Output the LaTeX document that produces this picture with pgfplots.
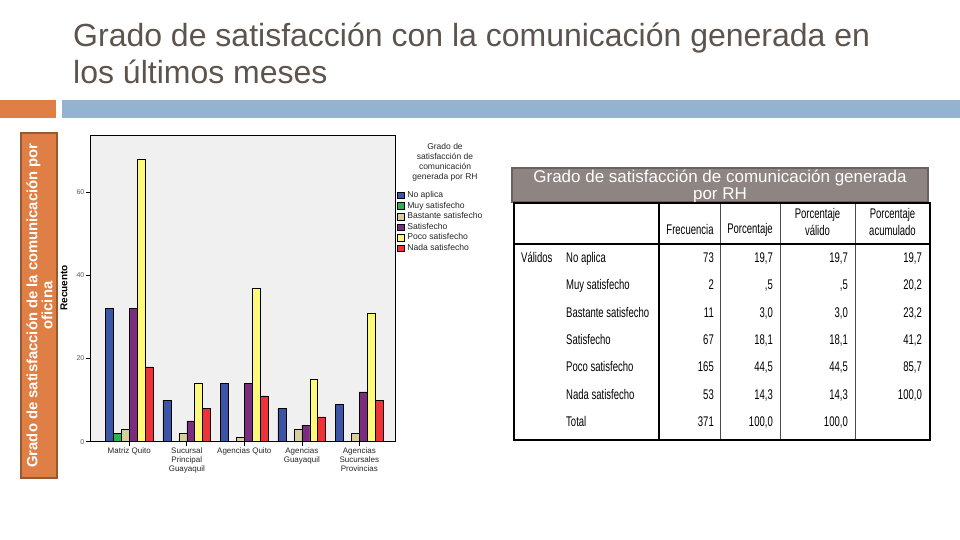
\documentclass[border=0pt]{standalone}
\usepackage{pgfplots}
\pgfplotsset{compat=1.18}
\usepackage{fontspec}
\setmainfont{Liberation Sans}
\newfontfamily\narrowfont[FakeStretch=0.68]{Liberation Sans}
\definecolor{titleC}{RGB}{94,84,78}
\definecolor{orangeC}{RGB}{224,127,69}
\definecolor{brownC}{RGB}{150,90,50}
\definecolor{blueC}{RGB}{147,179,208}
\definecolor{tgray}{RGB}{142,132,130}
\definecolor{tdark}{RGB}{105,97,95}
\definecolor{bgC}{RGB}{240,240,240}
\definecolor{sBlue}{RGB}{59,84,165}
\definecolor{sGreen}{RGB}{43,178,76}
\definecolor{sBeige}{RGB}{214,207,155}
\definecolor{sPurple}{RGB}{123,44,126}
\definecolor{sYellow}{RGB}{253,249,122}
\definecolor{sRed}{RGB}{238,51,56}
\begin{document}
\begin{tikzpicture}
\useasboundingbox (0,0) rectangle (960pt,540pt);
\fill[white] (0,0) rectangle (960pt,540pt);
\begin{scope}[x=1pt,y=-1pt,yshift=540pt]
  % title
  \node[anchor=base west, inner sep=0pt, text=titleC, font=\fontsize{32}{38}\selectfont] at (73,47) {Grado de satisfacción con la comunicación generada en};
  \node[anchor=base west, inner sep=0pt, text=titleC, font=\fontsize{32}{38}\selectfont] at (73,84) {los últimos meses};
  % decorative bars
  \fill[orangeC] (0,100) rectangle (56,118);
  \fill[blueC] (62,100) rectangle (960,118);
  % orange vertical box
  \filldraw[fill=orangeC, draw=brownC, line width=1.5pt] (21,133) rectangle (57,478);
  \node[rotate=90, align=center, text=white, font=\bfseries\fontsize{14.8}{15}\selectfont] at (39.5,305.5) {Grado de satisfacción de la comunicación por\\oficina};
  % y label
  \node[rotate=90, font=\bfseries\fontsize{10}{12}\selectfont] at (64,288) {Recuento};
  % legend title
  \node[align=center, font=\fontsize{8.5}{10}\selectfont, text=black!85] at (445,162) {Grado de\\satisfacción de\\comunicación\\generada por RH};
  % table title box
  \filldraw[fill=tgray, draw=tdark, line width=1.2pt] (512,168) rectangle (928,202);
  \node[anchor=base, inner sep=0pt, text=white, font=\fontsize{17}{19}\selectfont] at (720,183) {Grado de satisfacción de comunicación generada};
  \node[anchor=base, inner sep=0pt, text=white, font=\fontsize{17}{19}\selectfont] at (720,200) {por RH};
  % table
  \fill[white] (514,203) rectangle (930,440);
  \draw[black!70, line width=0.6pt] (720,203) -- (720,440) (780,203) -- (780,440) (855,203) -- (855,440);
  \draw[black, line width=1.1pt] (659,203) -- (659,440);
  \draw[black, line width=2pt] (514,244) -- (930,244);
  \draw[black, line width=2pt] (514,203) rectangle (930,440);
  \begin{scope}[every node/.style={font=\narrowfont\fontsize{14}{17}\selectfont, inner sep=0pt}]
    \node[align=center] at (690,230) {Frecuencia};
    \node[align=center] at (750,230) {Porcentaje};
    \node[align=center] at (817.5,222) {Porcentaje\\válido};
    \node[align=center] at (892.5,222) {Porcentaje\\acumulado};
  \end{scope}
  \begin{scope}[yshift=-1.5pt, every node/.style={font=\narrowfont\fontsize{14}{17}\selectfont, inner sep=0pt, text height=10pt, text depth=3pt}]
    \node[anchor=west] at (521,257.5) {Válidos};
    \node[anchor=west] at (566,257.5) {No aplica};
    \node[anchor=west] at (566,285) {Muy satisfecho};
    \node[anchor=west] at (566,312.5) {Bastante satisfecho};
    \node[anchor=west] at (566,339.5) {Satisfecho};
    \node[anchor=west] at (566,367) {Poco satisfecho};
    \node[anchor=west] at (566,394.5) {Nada satisfecho};
    \node[anchor=west] at (566,422) {Total};
    % Frecuencia
    \node[anchor=east] at (714,257.5) {73};
    \node[anchor=east] at (714,285) {2};
    \node[anchor=east] at (714,312.5) {11};
    \node[anchor=east] at (714,339.5) {67};
    \node[anchor=east] at (714,367) {165};
    \node[anchor=east] at (714,394.5) {53};
    \node[anchor=east] at (714,422) {371};
    % Porcentaje
    \node[anchor=east] at (773,257.5) {19,7};
    \node[anchor=east] at (773,285) {,5};
    \node[anchor=east] at (773,312.5) {3,0};
    \node[anchor=east] at (773,339.5) {18,1};
    \node[anchor=east] at (773,367) {44,5};
    \node[anchor=east] at (773,394.5) {14,3};
    \node[anchor=east] at (773,422) {100,0};
    % Porcentaje valido
    \node[anchor=east] at (848,257.5) {19,7};
    \node[anchor=east] at (848,285) {,5};
    \node[anchor=east] at (848,312.5) {3,0};
    \node[anchor=east] at (848,339.5) {18,1};
    \node[anchor=east] at (848,367) {44,5};
    \node[anchor=east] at (848,394.5) {14,3};
    \node[anchor=east] at (848,422) {100,0};
    % Porcentaje acumulado
    \node[anchor=east] at (922,257.5) {19,7};
    \node[anchor=east] at (922,285) {20,2};
    \node[anchor=east] at (922,312.5) {23,2};
    \node[anchor=east] at (922,339.5) {41,2};
    \node[anchor=east] at (922,367) {85,7};
    \node[anchor=east] at (922,394.5) {100,0};
  \end{scope}
\end{scope}
\begin{axis}[
  at={(90pt,98.3pt)}, anchor=south west,
  scale only axis, width=305pt, height=306.7pt,
  xmin=-0.683, xmax=4.62, ymin=0, ymax=73.8,
  ybar=0pt, bar width=7.95pt,
  axis background/.style={fill=bgC},
  axis line style={black, line width=0.8pt},
  xtick={0,1,2,3,4},
  xticklabels={Matriz Quito, {Sucursal\\Principal\\Guayaquil}, Agencias Quito, {Agencias\\Guayaquil}, {Agencias\\Sucursales\\Provincias}},
  xticklabel style={align=center, font=\fontsize{8}{9}\selectfont, text=black!85, inner sep=1.5pt},
  ytick={0,20,40,60},
  yticklabel style={font=\fontsize{7}{8}\selectfont, text=black!65, inner sep=1.5pt},
  /pgf/number format/assume math mode=true,
  xtick pos=bottom, ytick pos=left,
  tick align=outside, major tick length=4pt,
  tick style={black, line width=0.6pt},
  legend image code/.code={\draw[#1, draw=black, line width=0.3pt] (0pt,-3.3pt) rectangle (6.8pt,3.3pt);},
  legend cell align=left,
  legend style={at={(1.0066,0.818)}, anchor=north west, draw=none, fill=none,
    font=\fontsize{8.6}{9}\selectfont, text=black!85, inner sep=0pt, row sep=2.1pt, column sep=2.5pt,
    nodes={inner sep=0.5pt, text height=6pt, text depth=1.5pt}},
]
\addplot[fill=sBlue, draw=black, line width=0.5pt] coordinates {(0,32) (1,10) (2,14) (3,8) (4,9)};
\addplot[fill=sGreen, draw=black, line width=0.5pt] coordinates {(0,2)};
\addplot[fill=sBeige, draw=black, line width=0.5pt] coordinates {(0,3) (1,2) (2,1) (3,3) (4,2)};
\addplot[fill=sPurple, draw=black, line width=0.5pt] coordinates {(0,32) (1,5) (2,14) (3,4) (4,12)};
\addplot[fill=sYellow, draw=black, line width=0.5pt] coordinates {(0,68) (1,14) (2,37) (3,15) (4,31)};
\addplot[fill=sRed, draw=black, line width=0.5pt] coordinates {(0,18) (1,8) (2,11) (3,6) (4,10)};
\legend{No aplica, Muy satisfecho, Bastante satisfecho, Satisfecho, Poco satisfecho, Nada satisfecho}
\end{axis}
\end{tikzpicture}
\end{document}
